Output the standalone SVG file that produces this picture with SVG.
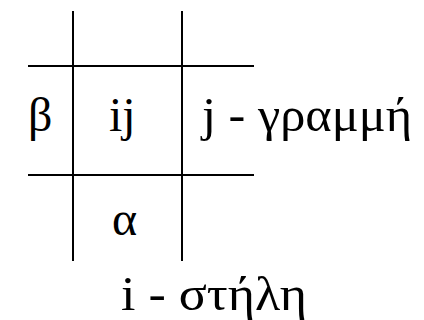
<svg xmlns="http://www.w3.org/2000/svg" width="424" height="320" viewBox="0 0 424 320">
<style>
.ln{stroke:#000;stroke-width:2;fill:none}
</style>
<rect width="424" height="320" fill="#fff"/>
<g id="connectors">
<line class="ln" x1="73" y1="11" x2="73" y2="261"/>
<line class="ln" x1="182" y1="11" x2="182" y2="261"/>
<line class="ln" x1="28" y1="66" x2="254" y2="66"/>
<line class="ln" x1="28" y1="175" x2="254" y2="175"/>
</g>
<g id="beta"><text font-family="Times New Roman, Liberation Serif, serif" font-size="48" x="28" y="131">&#x3B2;</text></g>
<g id="ij"><text font-family="Times New Roman, Liberation Serif, serif" font-size="48" x="109" y="131">&#105;&#106;</text></g>
<g id="row"><text font-family="Times New Roman, Liberation Serif, serif" font-size="48" x="202" y="131" textLength="210" lengthAdjust="spacingAndGlyphs">&#106; - &#x3B3;&#x3C1;&#x3B1;&#x3BC;&#x3BC;&#x3AE;</text></g>
<g id="alpha"><text font-family="Times New Roman, Liberation Serif, serif" font-size="48" x="112" y="235">&#x3B1;</text></g>
<g id="col"><text font-family="Times New Roman, Liberation Serif, serif" font-size="48" x="121" y="310" textLength="186" lengthAdjust="spacingAndGlyphs">&#105; - &#x3C3;&#x3C4;&#x3AE;&#x3BB;&#x3B7;</text></g>
</svg>
